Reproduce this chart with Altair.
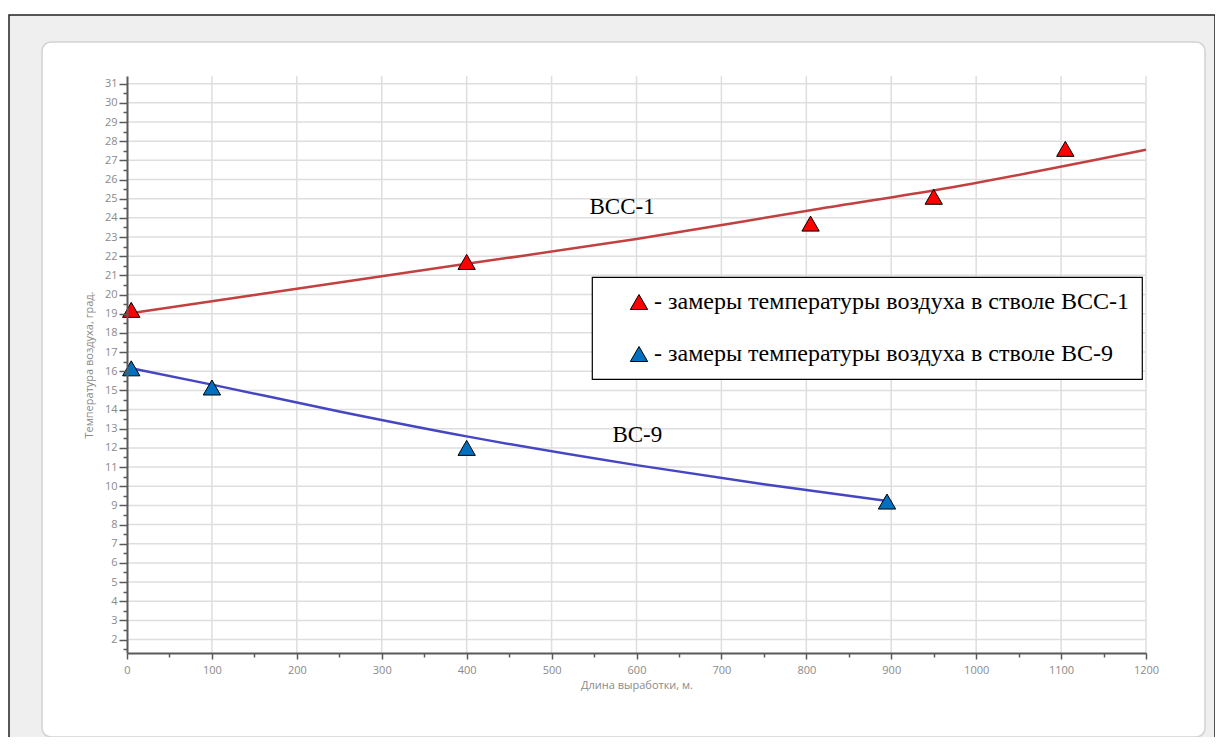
import altair as alt
import pandas as pd

# measured points
bcc_x = [5, 400, 805, 950, 1105]
bcc_y = [19.2, 21.7, 23.7, 25.1, 27.6]
bc_x = [5, 100, 400, 895]
bc_y = [16.15, 15.15, 12.0, 9.2]

# trend curves
bcc_trend_x = [0, 300, 400, 600, 805, 953, 1200]
bcc_trend_y = [19.0, 20.95, 21.6, 22.9, 24.4, 25.45, 27.55]
bc_trend_x = [5, 100, 250, 400, 600, 750, 900]
bc_trend_y = [16.15, 15.3, 13.9, 12.6, 11.1, 10.1, 9.2]

series = ["- замеры температуры воздуха в стволе ВСС-1",
          "- замеры температуры воздуха в стволе ВС-9"]
colors = ["#ff0000", "#0070c0"]

labels_txt = ["ВСС-1", "ВС-9"]
labels_x = [583, 601]
labels_y = [24.55, 12.65]

x_ticks = list(range(0, 1201, 50))
y_ticks = [v / 2 for v in range(3, 63)]
x_grid = list(range(100, 1201, 100))
y_grid = list(range(2, 32))

pts = pd.DataFrame({
    "x": bcc_x + bc_x,
    "y": bcc_y + bc_y,
    "s": [series[0]] * len(bcc_x) + [series[1]] * len(bc_x),
})
red_line = pd.DataFrame({"x": bcc_trend_x, "y": bcc_trend_y})
blue_line = pd.DataFrame({"x": bc_trend_x, "y": bc_trend_y})
txt = pd.DataFrame({"x": labels_x, "y": labels_y, "t": labels_txt})
gx = pd.DataFrame({"x": x_grid})
gy = pd.DataFrame({"y": y_grid})
one = pd.DataFrame({"a": [0]})

W, H = 1019, 577

axis_common = dict(
    domainColor="#5a5a5a", domainWidth=2, tickColor="#5a5a5a", tickWidth=1.5,
    grid=False, zindex=1, labelColor="#8a8a8a", labelFont="Open Sans",
    labelFontSize=11, titleColor="#8a8a8a", titleFont="Open Sans", titleFontSize=11,
    titleFontWeight="normal", labelOverlap=False, labelFlush=False,
)

xs = alt.Scale(domain=[0, 1200], nice=False, zero=False)
ys = alt.Scale(domain=[1.3, 31.4], nice=False, zero=False)

x_major = "abs(datum.value / 100 - round(datum.value / 100)) < 0.01"
y_major = "abs(datum.value - round(datum.value)) < 0.01"

X = alt.X("x:Q", scale=xs,
          axis=alt.Axis(values=x_ticks, title="Длина выработки, м.",
                        labelExpr=f"{x_major} ? format(datum.value, 'd') : ''",
                        tickSize={"condition": {"test": x_major, "value": 6}, "value": 4},
                        labelPadding=5, titlePadding=4, **axis_common))
Y = alt.Y("y:Q", scale=ys,
          axis=alt.Axis(values=y_ticks, title="Температура воздуха, град.",
                        labelExpr=f"{y_major} ? format(round(datum.value), 'd') : ''",
                        tickSize={"condition": {"test": y_major, "value": 8}, "value": 4},
                        labelPadding=2, titlePadding=10, **axis_common))

outer = alt.Chart(one).mark_rect(fill="#efefef", stroke="#222222", strokeWidth=1.5).encode(
    x=alt.value(-118), x2=alt.value(1088), y=alt.value(-61), y2=alt.value(700))
panel = alt.Chart(one).mark_rect(fill="white", stroke="#d2d2d2", strokeWidth=1.5, cornerRadius=9).encode(
    x=alt.value(-85), x2=alt.value(1078), y=alt.value(-34), y2=alt.value(661))

grid_x = alt.Chart(gx).mark_rule(color="#dedede", strokeWidth=1.5).encode(x=X)
grid_y = alt.Chart(gy).mark_rule(color="#dedede", strokeWidth=1.5).encode(y=Y)

l1 = alt.Chart(red_line).mark_line(color="#c2403f", strokeWidth=2.5, interpolate="monotone").encode(x=X, y=Y)
l2 = alt.Chart(blue_line).mark_line(color="#4646c2", strokeWidth=2.5, interpolate="monotone").encode(x=X, y=Y)

points = alt.Chart(pts).mark_point(shape="triangle-up", filled=True, size=300, stroke="black",
                                    strokeWidth=1, opacity=1).encode(
    x=X, y=Y,
    color=alt.Color("s:N", scale=alt.Scale(domain=series, range=colors),
                    legend=alt.Legend(orient="none", legendX=465, legendY=201, title=None,
                                      symbolType="triangle-up", symbolSize=300,
                                      symbolStrokeColor="black", symbolStrokeWidth=1,
                                      labelFont="Liberation Serif", labelFontSize=24,
                                      labelColor="black", labelLimit=800, padding=13,
                                      rowPadding=28, strokeColor="black",
                                      fillColor="white", symbolOffset=22, labelOffset=3)))

texts = alt.Chart(txt).mark_text(font="Liberation Serif", fontSize=23, color="black").encode(
    x=X, y=Y, text="t:N")

chart = alt.layer(outer, panel, grid_x, grid_y, l1, l2, points, texts).properties(
    width=W, height=H,
    autosize=alt.AutoSizeParams(type="none"),
    padding={"left": 119, "top": 68, "right": 69, "bottom": 84},
    background="white",
).configure_view(stroke=None).configure_legend(strokeWidth=1.2)

chart.save("out.html", embed_options={"renderer": "svg", "actions": False})
